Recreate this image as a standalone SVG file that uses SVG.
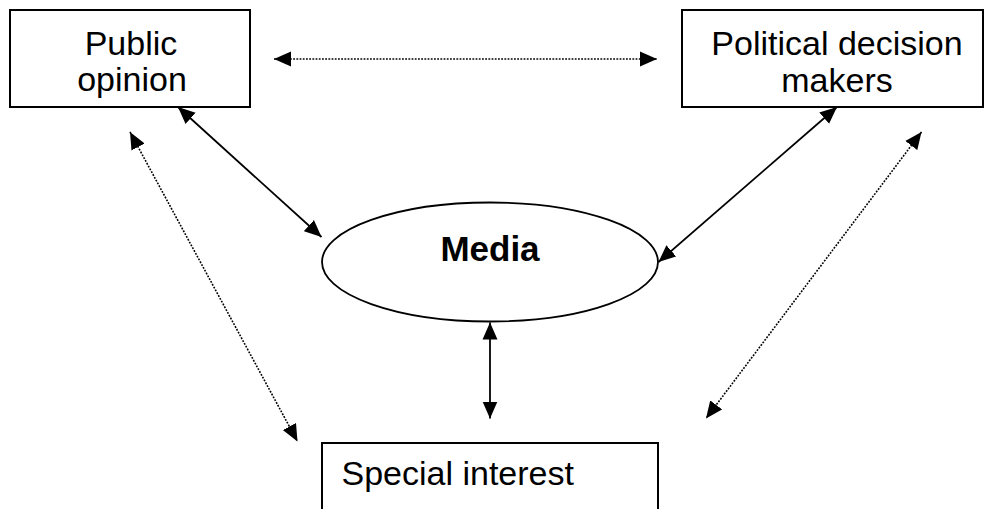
<svg xmlns="http://www.w3.org/2000/svg" width="984" height="509" viewBox="0 0 984 509">
<style>
.box{fill:#fff;stroke:#000;stroke-width:2}
.lbl{font-family:"Liberation Sans",Arial,sans-serif;font-size:34px;fill:#000}
.solid{stroke:#000;stroke-width:1.8;fill:none;marker-start:url(#ah);marker-end:url(#ah)}
.dot{stroke:#000;stroke-width:1.6;stroke-dasharray:1.8 1.4;fill:none;marker-start:url(#ah);marker-end:url(#ah)}
</style>
<defs>
<marker id="ah" markerUnits="userSpaceOnUse" markerWidth="18" markerHeight="16" refX="17" refY="8" orient="auto-start-reverse" viewBox="0 0 18 16">
<path d="M0,0.5 L17,8 L0,15.5 z" fill="#000"/>
</marker>
</defs>
<rect width="984" height="509" fill="#fff"/>
<g id="public-opinion">
<rect class="box" x="10" y="10" width="240" height="97"/>
<text class="lbl" x="131" y="55" text-anchor="middle">Public</text>
<text class="lbl" x="132" y="91" text-anchor="middle">opinion</text>
</g>
<g id="political-decision-makers">
<rect class="box" x="682" y="10" width="301" height="97"/>
<text class="lbl" x="837" y="55" text-anchor="middle">Political decision</text>
<text class="lbl" x="837" y="92" text-anchor="middle">makers</text>
</g>
<g id="media">
<ellipse cx="490" cy="262" rx="168" ry="59.5" fill="#fff" stroke="#000" stroke-width="1.8"/>
<text class="lbl" x="490" y="261" text-anchor="middle" font-weight="bold" style="font-size:35px">Media</text>
</g>
<g id="special-interest">
<rect class="box" x="322" y="443" width="336" height="80"/>
<text class="lbl" x="341.5" y="485">Special interest</text>
</g>
<g id="connectors">
<line class="dot" x1="274" y1="59" x2="657" y2="59"/>
<line class="solid" x1="178" y1="107" x2="321.5" y2="237"/>
<line class="solid" x1="837" y1="107" x2="658.5" y2="262"/>
<line class="solid" x1="490" y1="322.5" x2="490" y2="418.5"/>
<line class="dot" x1="130" y1="132" x2="297.5" y2="441.5"/>
<line class="dot" x1="921.5" y1="132" x2="706" y2="418.5"/>
</g>
</svg>
